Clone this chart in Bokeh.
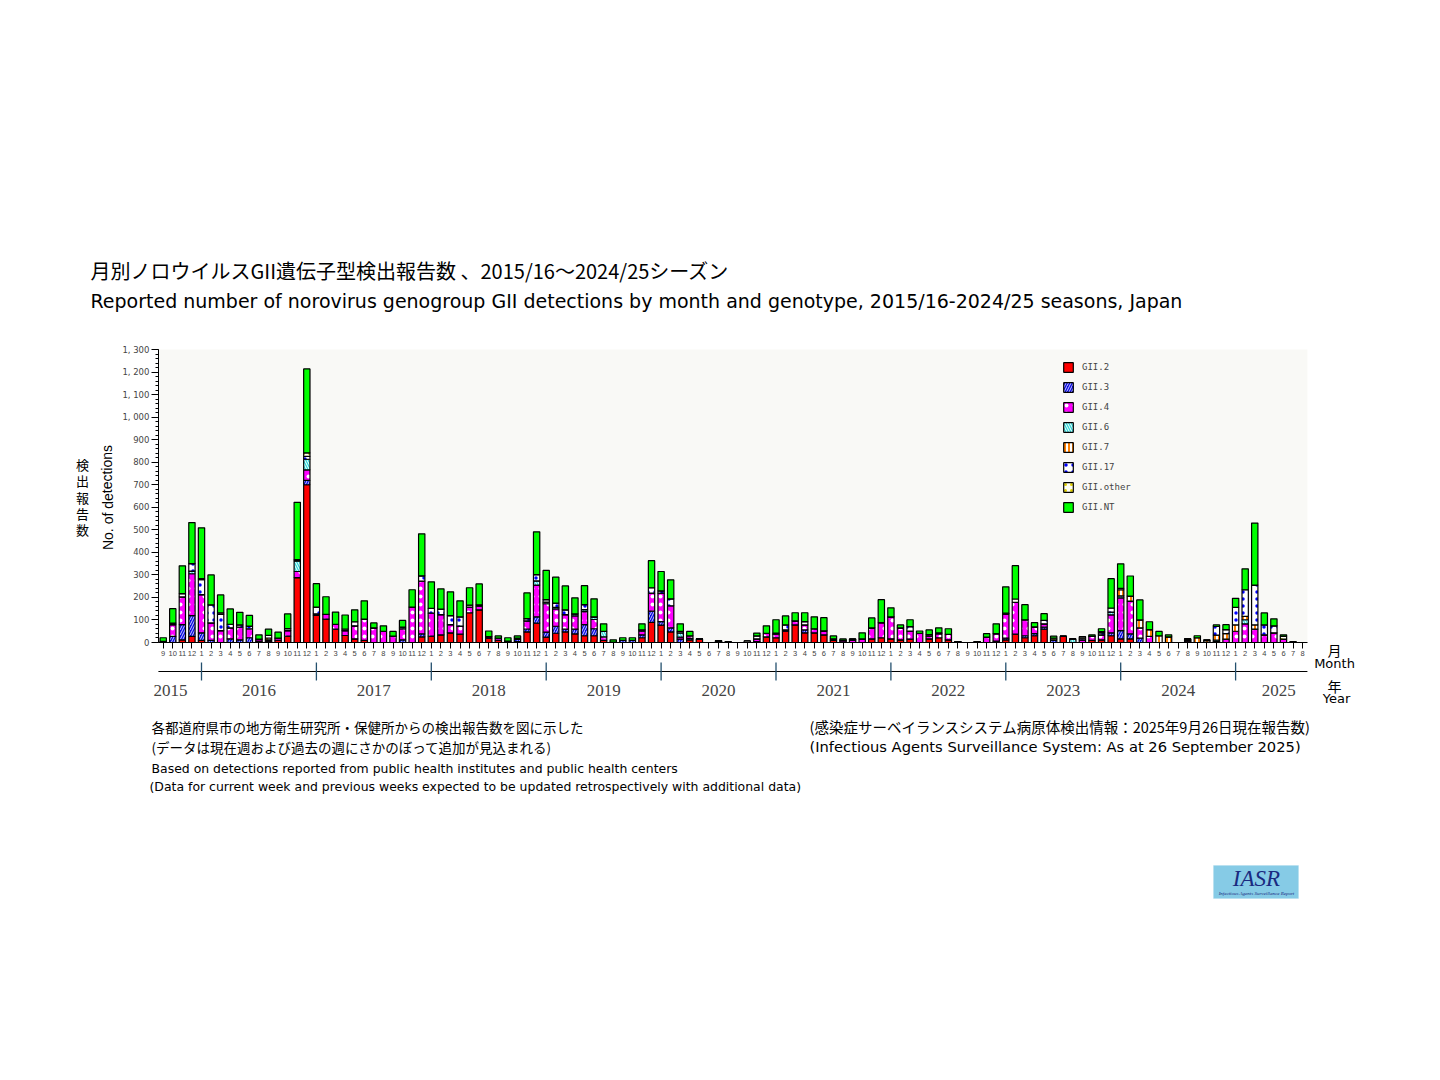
from bokeh.plotting import figure
from bokeh.models import (ColumnDataSource, Range1d, FixedTicker, Label, BoxAnnotation)
from bokeh.embed import file_html
from bokeh.resources import INLINE

# ---------------- data ----------------
# months from Sep 2015 to Aug 2025
start_year, start_month = 2015, 9
periods = []
y, m = start_year, start_month
for _ in range(120):
    periods.append((y, m))
    m += 1
    if m > 12:
        m = 1
        y += 1
month_labels = [str(mm) for (_, mm) in periods]
years = ["2015", "2016", "2017", "2018", "2019", "2020", "2021", "2022", "2023", "2024", "2025"]

series_names = ["GII.2", "GII.3", "GII.4", "GII.6", "GII.7", "GII.17", "GII.other", "GII.NT"]

g2 = [2, 0, 12, 27, 9, 0, 0, 0, 0, 0,
      6, 6, 10, 28, 288, 700, 120, 104, 59, 31,
      16, 9, 0, 0, 0, 0, 0, 25, 28, 34,
      43, 37, 132, 145, 19, 10, 6, 4, 47, 86,
      24, 41, 47, 38, 30, 30, 9, 2, 0, 0,
      21, 89, 77, 47, 0, 12, 16, 0, 5, 0,
      0, 0, 4, 25, 21, 50, 78, 43, 43, 34,
      9, 3, 0, 0, 16, 21, 16, 12, 15, 0,
      16, 21, 12, 4, 0, 0, 0, 6, 12, 37,
      21, 30, 59, 0, 27, 0, 0, 9, 12, 30,
      16, 16, 0, 0, 0, 0, 0, 6, 0, 0,
      0, 0, 0, 0, 0, 0, 0, 0, 0, 0]
g3 = [0, 27, 67, 92, 34, 9, 0, 16, 12, 21,
      0, 0, 0, 0, 0, 19, 0, 0, 0, 0,
      0, 0, 0, 0, 0, 12, 0, 13, 0, 0,
      0, 0, 0, 0, 0, 0, 0, 10, 13, 28,
      22, 31, 12, 21, 49, 31, 0, 0, 9, 9,
      13, 50, 16, 18, 15, 6, 0, 0, 0, 0,
      0, 0, 0, 0, 0, 0, 0, 13, 0, 0,
      0, 0, 0, 0, 0, 0, 0, 0, 0, 0,
      0, 0, 0, 0, 0, 0, 0, 0, 7, 0,
      9, 9, 9, 12, 0, 0, 0, 0, 0, 13,
      37, 22, 19, 0, 0, 0, 0, 5, 0, 0,
      0, 0, 0, 0, 0, 0, 0, 0, 0, 0]
g4 = [3, 52, 123, 186, 169, 78, 53, 49, 56, 40,
      9, 6, 9, 25, 27, 47, 7, 21, 21, 22,
      58, 95, 65, 50, 28, 49, 157, 234, 102, 90,
      36, 36, 25, 16, 7, 9, 0, 6, 36, 141,
      126, 77, 65, 59, 58, 41, 16, 0, 0, 0,
      16, 80, 126, 98, 9, 12, 0, 0, 3, 3,
      0, 0, 12, 16, 16, 6, 18, 22, 18, 18,
      7, 6, 12, 16, 49, 67, 98, 53, 36, 41,
      12, 18, 24, 0, 0, 4, 24, 33, 108, 141,
      71, 30, 15, 0, 0, 0, 12, 18, 22, 80,
      145, 146, 46, 27, 0, 0, 0, 5, 0, 0,
      5, 15, 50, 83, 59, 34, 43, 15, 0, 0]
g6 = [0, 0, 0, 12, 0, 0, 0, 0, 0, 0,
      0, 0, 0, 0, 47, 47, 0, 0, 0, 0,
      0, 0, 0, 0, 0, 0, 0, 0, 0, 0,
      0, 0, 0, 0, 0, 0, 0, 0, 0, 18,
      7, 7, 0, 9, 9, 12, 24, 0, 0, 0,
      6, 0, 0, 0, 19, 0, 0, 0, 0, 0,
      0, 0, 0, 0, 0, 0, 0, 0, 0, 0,
      0, 0, 0, 0, 0, 0, 0, 0, 0, 0,
      0, 0, 0, 0, 0, 0, 0, 0, 0, 0,
      0, 0, 0, 0, 0, 16, 0, 0, 0, 12,
      9, 0, 0, 0, 0, 0, 0, 0, 0, 0,
      6, 0, 0, 18, 0, 0, 0, 0, 0, 0]
g7 = [0, 0, 0, 0, 0, 0, 0, 0, 0, 0,
      0, 8, 0, 0, 0, 0, 0, 0, 0, 0,
      0, 0, 0, 0, 0, 0, 0, 0, 0, 0,
      0, 0, 0, 0, 0, 0, 0, 0, 0, 0,
      0, 0, 0, 0, 0, 0, 0, 0, 0, 0,
      0, 0, 0, 0, 0, 0, 0, 0, 0, 0,
      0, 0, 0, 0, 0, 0, 0, 0, 0, 0,
      0, 0, 0, 0, 0, 0, 0, 0, 0, 0,
      0, 0, 0, 0, 0, 0, 0, 0, 0, 0,
      0, 0, 0, 0, 0, 0, 0, 0, 0, 0,
      27, 22, 35, 30, 30, 25, 0, 0, 21, 8,
      22, 24, 28, 15, 19, 0, 0, 0, 0, 0]
g17 = [0, 7, 15, 33, 67, 80, 72, 16, 10, 12,
       0, 12, 0, 9, 6, 13, 30, 0, 0, 7,
       18, 0, 0, 0, 0, 7, 0, 24, 21, 24,
       40, 41, 0, 0, 0, 0, 0, 0, 10, 28,
       11, 19, 21, 0, 22, 0, 0, 0, 0, 0,
       0, 24, 10, 31, 6, 0, 0, 0, 0, 0,
       0, 0, 13, 0, 0, 22, 0, 15, 0, 0,
       0, 0, 0, 0, 0, 0, 0, 0, 19, 0,
       7, 0, 0, 0, 0, 0, 0, 0, 0, 0,
       0, 0, 15, 0, 0, 0, 7, 0, 9, 18,
       0, 0, 0, 0, 0, 0, 0, 0, 0, 0,
       38, 18, 78, 118, 177, 44, 31, 0, 0, 0]
goth = [0, 0, 0, 0, 4, 0, 6, 0, 0, 0,
        0, 0, 0, 0, 0, 15, 0, 0, 0, 0,
        0, 0, 0, 0, 0, 0, 0, 0, 0, 0,
        0, 0, 9, 6, 0, 0, 0, 0, 0, 0,
        0, 0, 0, 0, 0, 0, 0, 0, 0, 0,
        0, 0, 0, 0, 0, 0, 0, 0, 0, 0,
        0, 7, 0, 0, 5, 0, 0, 0, 0, 0,
        0, 0, 4, 0, 0, 0, 0, 0, 0, 0,
        0, 4, 0, 0, 0, 0, 0, 0, 3, 15,
        0, 0, 0, 7, 0, 0, 7, 0, 5, 0,
        6, 0, 0, 0, 0, 0, 0, 0, 0, 4,
        0, 0, 0, 0, 0, 0, 0, 12, 4, 0]
gnt = [16, 64, 123, 182, 226, 133, 80, 68, 56, 47,
       19, 27, 27, 65, 254, 373, 104, 78, 55, 62,
       53, 81, 22, 24, 21, 30, 77, 186, 118, 90,
       106, 71, 77, 93, 25, 10, 15, 9, 114, 190,
       130, 115, 106, 71, 84, 80, 34, 10, 12, 12,
       27, 120, 86, 84, 34, 19, 0, 0, 0, 0,
       0, 0, 13, 33, 59, 40, 36, 39, 53, 58,
       13, 7, 0, 27, 44, 102, 40, 13, 31, 10,
       21, 22, 25, 0, 0, 0, 15, 44, 117, 148,
       67, 19, 30, 9, 0, 0, 0, 7, 13, 130,
       109, 89, 89, 35, 19, 9, 0, 0, 9, 0,
       7, 22, 40, 93, 275, 53, 31, 7, 0, 0]

yticks = list(range(0, 1301, 100))

# ---------------- layout geometry (page pixels) ----------------
W, H = 1436, 1076
PX0, DX = 162.7, 9.575          # page x of first month, px per month
PY0, DY = 642.0, 293.0 / 1300   # page y of value 0, px per unit


def xd(X):
    return (X - PX0) / DX


def yd(Y):
    return (PY0 - Y) / DY


x_idx = list(range(len(periods)))
src = ColumnDataSource(dict(x=x_idx, g2=g2, g3=g3, g4=g4, g6=g6, g7=g7, g17=g17, goth=goth, gnt=gnt))
stackers = ["g2", "g3", "g4", "g6", "g7", "g17", "goth", "gnt"]

p = figure(width=W, height=H, output_backend="svg", toolbar_location=None,
           x_range=Range1d(xd(0), xd(W)), y_range=Range1d(yd(H), yd(0)),
           min_border=0, min_border_left=0, min_border_right=0, min_border_top=0, min_border_bottom=0)
p.title.visible = False
p.background_fill_color = "white"
p.border_fill_color = "white"
p.outline_line_color = None
p.xgrid.visible = False
p.ygrid.visible = False

# light plot-area tint
p.add_layout(BoxAnnotation(left=-0.5, right=119.5, bottom=0, top=1300, fill_color="#f9f9f6",
                           fill_alpha=1, line_color=None, level="underlay"))

fills = ["#ff0000", "#0a0ae6", "#ff00ff", "#30dada", "#ffffff", "#ffffff", "#fffff2", "#00ff00"]
hatches = [" ", "/", ".", "\\", "|", ".", ".", " "]
hcolors = ["#ff0000", "#ffffff", "#ffffff", "#ffffff", "#ff8000", "#0000ff", "#e0d000", "#00ff00"]
hscales = [6, 5, 8, 5, 4, 7, 6, 6]
hweights = [1, 0.8, 0.9, 1.0, 2.0, 1.0, 1.0, 1]

p.vbar_stack(stackers, x="x", width=0.66, source=src,
             fill_color=fills, hatch_pattern=hatches, hatch_color=hcolors,
             hatch_scale=hscales, hatch_weight=hweights,
             line_color="black", line_width=1.2,
             legend_label=series_names)

leg = p.legend[0]
leg.location = (1062, H - 513)
leg.padding = 0
leg.margin = 0
leg.spacing = 8
leg.glyph_width = 12
leg.glyph_height = 12
leg.label_height = 12
leg.label_standoff = 8
leg.label_text_font = "DejaVu Sans Mono"
leg.label_text_font_size = "9px"
leg.background_fill_alpha = 0
leg.border_line_alpha = 0

# y axis (drawn at the left edge of the bars area)
ya = p.yaxis[0]
ya.fixed_location = -0.5
ya.bounds = (0, 1300)
ya.ticker = FixedTicker(ticks=yticks, minor_ticks=list(range(0, 1301, 20)))
ya.major_label_overrides = {v: f"{v:,}".replace(",", ", ") for v in yticks}
ya.major_label_text_font = "DejaVu Sans"
ya.major_label_text_font_size = "8.5px"
ya.major_tick_out = 7
ya.major_tick_in = 0
ya.minor_tick_out = 3
ya.minor_tick_in = 0
ya.major_label_standoff = 2
ya.axis_line_color = "black"

# month axis at value 0
xa = p.xaxis[0]
xa.fixed_location = 0
xa.bounds = (-0.5, 119.5)
xa.ticker = FixedTicker(ticks=x_idx)
xa.major_label_overrides = {i: lbl for i, lbl in zip(x_idx, month_labels)}
xa.major_label_text_font = "Liberation Sans Narrow, Liberation Sans"
xa.major_label_text_font_size = "7.5px"
xa.major_tick_out = 6
xa.major_tick_in = 0
xa.major_label_standoff = 2

# year line with ticks at January of each year
jan_idx = [i for i, (_, mm) in enumerate(periods) if mm == 1]
p.segment(x0=[-0.5], y0=[yd(671)], x1=[119.5], y1=[yd(671)], line_color="black", line_width=1.2)
p.segment(x0=jan_idx, y0=[yd(662)] * len(jan_idx), x1=jan_idx, y1=[yd(680)] * len(jan_idx),
          line_color="#24506e", line_width=1.3)


def lab(text, X, Y, size, font, align="left", baseline="middle", angle=0, color="black", style="normal"):
    p.add_layout(Label(x=xd(X), y=yd(Y), text=text,
                       text_font=font, text_font_size=f"{size}px", text_align=align,
                       text_baseline=baseline, angle=angle, text_color=color,
                       text_font_style=style))


# year labels centred (roughly) in each year segment
year_pos = [0.75] + [10.0 + 12 * k for k in range(9)] + [116.5]
for pos, yr in zip(year_pos, years):
    p.add_layout(Label(x=pos, y=yd(690), text=yr, text_font="Liberation Serif",
                       text_font_size="17px", text_align="center", text_baseline="middle"))

# titles
lab("月別ノロウイルスGII遺伝子型検出報告数 、2015/16～2024/25シーズン", 90, 270, 20, "Noto Sans CJK JP")
lab("Reported number of norovirus genogroup GII detections by month and genotype, 2015/16-2024/25 seasons, Japan",
    90, 300, 19, "DejaVu Sans")

# y axis titles
lab("No. of detections", 107, 497, 14, "Liberation Sans", align="center", angle=1.5708)
for k, ch in enumerate("検出報告数"):
    lab(ch, 82, 464 + k * 16.3, 13, "Noto Sans CJK JP", align="center")

# month / year captions
lab("月", 1334, 649, 14, "Noto Sans CJK JP", align="center")
lab("Month", 1334, 663, 13, "DejaVu Sans", align="center")
lab("年", 1334, 685, 14, "Noto Sans CJK JP", align="center")
lab("Year", 1336, 698, 13, "DejaVu Sans", align="center")

# footers
lab("各都道府県市の地方衛生研究所・保健所からの検出報告数を図に示した", 151, 726, 13.5, "Noto Sans CJK JP")
lab("(データは現在週および過去の週にさかのぼって追加が見込まれる)", 151, 746, 13.5, "Noto Sans CJK JP")
lab("Based on detections reported from public health institutes and public health centers", 151, 768, 12.45, "DejaVu Sans")
lab("(Data for current week and previous weeks expected to be updated retrospectively with additional data)",
    149, 786, 12.45, "DejaVu Sans")
lab("(感染症サーベイランスシステム病原体検出情報：2025年9月26日現在報告数)", 809, 726, 14.5, "Noto Sans CJK JP")
lab("(Infectious Agents Surveillance System: As at 26 September 2025)", 809, 746, 14.7, "DejaVu Sans")

# IASR logo
p.add_layout(BoxAnnotation(left=xd(1213), right=xd(1298), top=yd(865), bottom=yd(898),
                           fill_color="#86cbe6", fill_alpha=1, line_color="#a8d8ec", line_width=1))
lab("IASR", 1256, 878, 23, "Liberation Serif", align="center", color="#1a2a80", style="italic")
lab("Infectious Agents Surveillance Report", 1256, 893, 5, "Liberation Serif", align="center",
    color="#1a2a80", style="italic")

open("out.html", "w").write(file_html(p, INLINE))
